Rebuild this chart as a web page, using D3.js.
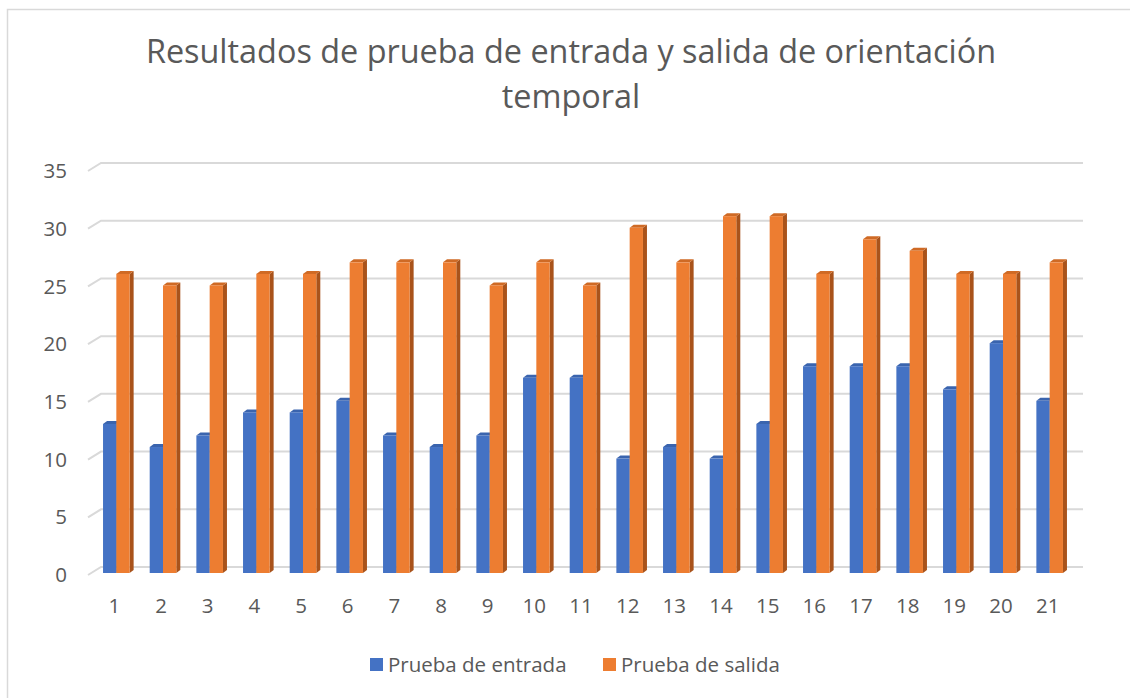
<!DOCTYPE html>
<meta charset="utf-8">
<script src="https://d3js.org/d3.v7.min.js"></script>
<style>
  body { margin: 0; background: #fff; }
  text { font-family: "Open Sans", sans-serif; fill: #595959; }
</style>
<div id="chart"></div>
<script>

// data
var categories = ["1","2","3","4","5","6","7","8","9","10","11","12","13","14","15","16","17","18","19","20","21"];
var entrada = [13, 11, 12, 14, 14, 15, 12, 11, 12, 17, 17, 10, 11, 10, 13, 18, 18, 18, 16, 20, 15];
var salida  = [26, 25, 25, 26, 26, 27, 27, 27, 25, 27, 25, 30, 27, 31, 31, 26, 29, 28, 26, 26, 27];
var seriesNames = ["Prueba de entrada", "Prueba de salida"];
var yTicks = [0, 5, 10, 15, 20, 25, 30, 35];

var colors = {
  front: ["#4472C4", "#ED7D31"],
  side:  ["#2F5597", "#A9531B"],
  top:   ["#3A64AE", "#CF6A25"]
};

var W = 1130, H = 698;
var svg = d3.select("#chart").append("svg")
  .attr("width", W).attr("height", H);

// chart border (only left/top visible in the picture)
svg.append("rect")
  .attr("x", 7.5).attr("y", 9.5)
  .attr("width", 1200).attr("height", 800)
  .attr("fill", "none").attr("stroke", "#D9D9D9").attr("stroke-width", 1.5);

// title
svg.append("text")
  .attr("x", 571).attr("y", 63)
  .attr("text-anchor", "middle")
  .style("font-size", "32.4px")
  .text("Resultados de prueba de entrada y salida de orientación");
svg.append("text")
  .attr("x", 571).attr("y", 108)
  .attr("text-anchor", "middle")
  .style("font-size", "32.4px")
  .text("temporal");

// scales (front plane)
var y = d3.scaleLinear().domain([0, 35]).range([574, 170]);
var x0 = d3.scaleBand().domain(categories).range([93, 1073])
  .paddingInner(0.43).paddingOuter(0.215);
var x1 = d3.scaleBand().domain([0, 1]).range([0, x0.bandwidth()]);

// back wall offset and bar depth
var back = {dx: 13, dy: -8};
var depth = {dx: 4, dy: -3};

// gridlines on the back wall with floor diagonals
var grid = svg.append("g");
yTicks.forEach(function(t) {
  var yf = y(t) + 1;
  grid.append("path")
    .attr("d", "M88," + yf + "L" + (88 + back.dx) + "," + (yf + back.dy) + "L1083," + (yf + back.dy))
    .attr("fill", "none").attr("stroke", "#D9D9D9").attr("stroke-width", 2);
});

// y axis labels
svg.append("g").selectAll("text")
  .data(yTicks).enter().append("text")
  .attr("x", 67).attr("y", function(d) { return y(d) + 1; })
  .attr("dy", "0.35em")
  .attr("text-anchor", "end")
  .style("font-size", "20.5px")
  .text(function(d) { return d; });

// x axis labels
svg.append("g").selectAll("text")
  .data(categories).enter().append("text")
  .attr("x", function(d) { return x0(d) + x0.bandwidth() / 2 - 2; })
  .attr("y", 613)
  .attr("text-anchor", "middle")
  .style("font-size", "20.5px")
  .text(function(d) { return d; });

// bars
var rows = categories.map(function(c, i) {
  return {cat: c, vals: [entrada[i], salida[i]]};
});
var bars = svg.append("g");
rows.forEach(function(r) {
  r.vals.forEach(function(v, s) {
    var bx = x0(r.cat) + x1(s), bw = x1.bandwidth();
    var top = y(v), bot = y(0) - 1;
    var g = bars.append("g");
    // right side
    g.append("path")
      .attr("d", "M" + (bx + bw) + "," + top + "L" + (bx + bw + depth.dx) + "," + (top + depth.dy) +
        "L" + (bx + bw + depth.dx) + "," + (bot + depth.dy) + "L" + (bx + bw) + "," + bot + "Z")
      .attr("fill", colors.side[s]);
    // top
    g.append("path")
      .attr("d", "M" + bx + "," + top + "L" + (bx + depth.dx) + "," + (top + depth.dy) +
        "L" + (bx + bw + depth.dx) + "," + (top + depth.dy) + "L" + (bx + bw) + "," + top + "Z")
      .attr("fill", colors.top[s]);
    // front
    g.append("rect")
      .attr("x", bx).attr("y", top)
      .attr("width", bw).attr("height", bot - top)
      .attr("fill", colors.front[s]);
  });
});

// legend
var legendX = [370, 603];
var legend = svg.append("g");
seriesNames.forEach(function(n, s) {
  legend.append("rect")
    .attr("x", legendX[s]).attr("y", 658)
    .attr("width", 13).attr("height", 13)
    .attr("fill", colors.front[s]);
  legend.append("text")
    .attr("x", legendX[s] + 18).attr("y", 672)
    .style("font-size", "20.5px")
    .text(n);
});

</script>
